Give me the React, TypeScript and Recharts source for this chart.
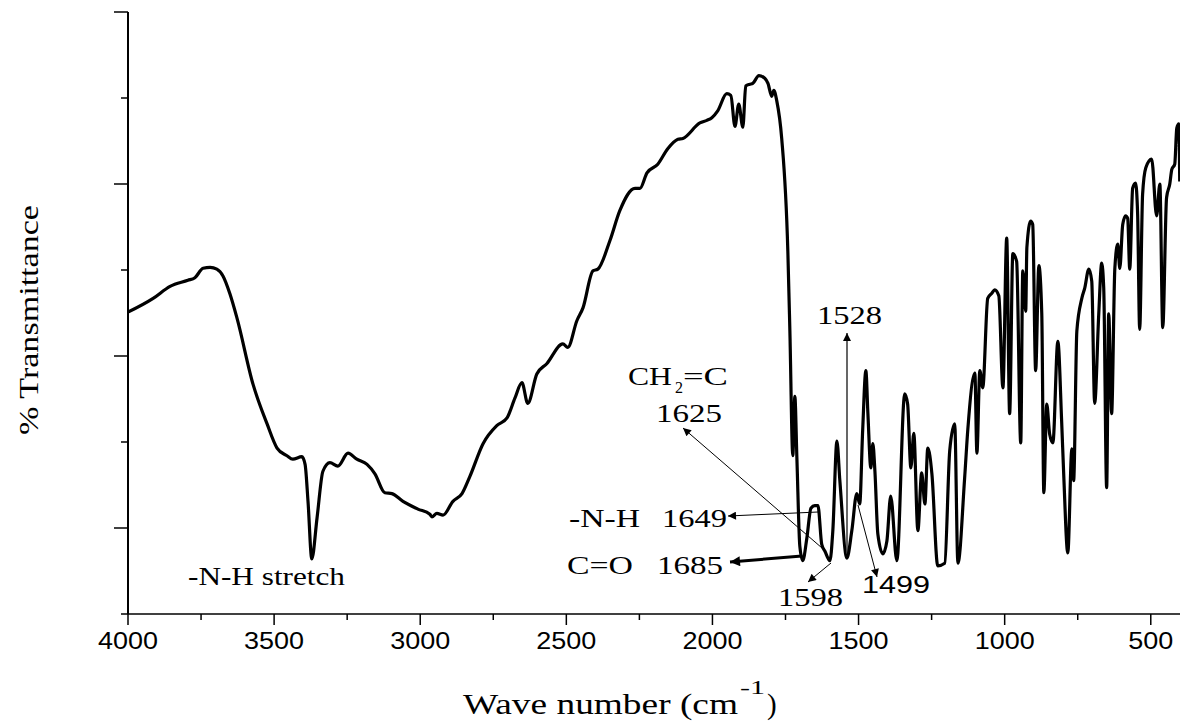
import React from "react";
import { LineChart, Line, XAxis, YAxis } from "recharts";

// Wavenumber (cm-1)
const wavenumbers: number[] = [
  4000, 3914, 3856, 3795, 3771, 3743, 3719, 3696, 3675, 3651,
  3627, 3572, 3524, 3490, 3456, 3436, 3405, 3394, 3384, 3371,
  3353, 3333, 3309, 3282, 3247, 3217, 3182, 3155, 3121, 3097,
  3059, 3008, 2967, 2960, 2943, 2922, 2888, 2857, 2830, 2785,
  2738, 2703, 2676, 2652, 2632, 2601, 2567, 2512, 2495, 2464,
  2443, 2409, 2392, 2351, 2317, 2265, 2248, 2224, 2187, 2153,
  2118, 2101, 2043, 2019, 2002, 1982, 1951, 1937, 1923, 1910,
  1896, 1886, 1872, 1862, 1841, 1821, 1810, 1797, 1790, 1780,
  1763, 1742, 1735, 1725, 1718, 1711, 1701, 1691, 1677, 1663,
  1650, 1639, 1626, 1615, 1598, 1588, 1574, 1564, 1540, 1523,
  1506, 1496, 1486, 1475, 1468, 1458, 1451, 1444, 1434, 1417,
  1403, 1390, 1369, 1342, 1332, 1321, 1311, 1297, 1284, 1273,
  1263, 1249, 1229, 1205, 1188, 1171, 1160, 1137, 1126, 1102,
  1095, 1085, 1075, 1058, 1044, 1034, 1020, 1006, 993, 983,
  972, 959, 945, 938, 928, 924, 911, 904, 894, 883,
  873, 866, 856, 846, 835, 818, 805, 798, 784, 770,
  764, 753, 736, 726, 712, 702, 692, 678, 668, 661,
  651, 644, 634, 623, 613, 606, 596, 586, 579, 572,
  562, 552, 545, 538, 528, 517, 497, 480, 469, 459,
  446, 435, 428, 418, 411, 404, 401,
];

// % Transmittance (arbitrary scale 0..70, axis unlabeled in the reference)
const transmittance: number[] = [
  35.1, 36.7, 38.1, 38.8, 39.1, 40.2, 40.3, 40.1, 39.3, 37.2,
  34.4, 26.7, 22.1, 19.3, 18.4, 18.0, 18.3, 17.4, 13.1, 6.4,
  11.2, 16.6, 17.6, 17.2, 18.7, 18.0, 17.4, 16.3, 14.1, 14.0,
  13.1, 12.2, 11.6, 11.3, 11.7, 11.5, 13.1, 14.0, 16.0, 19.8,
  21.9, 22.8, 25.1, 26.9, 24.5, 27.9, 29.1, 31.4, 31.0, 34.1,
  35.6, 39.9, 40.1, 43.4, 46.9, 49.5, 49.5, 51.3, 52.3, 54.1,
  55.2, 55.3, 57.1, 57.4, 57.7, 58.5, 60.5, 60.3, 56.7, 59.3,
  56.6, 61.4, 61.6, 61.7, 62.6, 62.3, 61.7, 60.2, 60.9, 59.7,
  55.3, 42.2, 32.9, 18.4, 25.3, 18.1, 7.9, 6.2, 8.8, 12.3,
  12.6, 12.6, 8.1, 7.3, 6.2, 9.7, 20.1, 15.5, 6.5, 9.7,
  14.0, 12.8, 21.3, 28.3, 23.3, 17.0, 19.8, 16.6, 9.3, 7.0,
  8.5, 13.7, 6.2, 25.6, 24.4, 17.0, 21.0, 9.7, 16.4, 12.8,
  19.3, 16.3, 5.6, 5.9, 19.0, 22.1, 5.9, 15.8, 21.5, 28.0,
  18.7, 28.3, 26.3, 36.7, 37.3, 37.7, 37.0, 26.3, 43.7, 23.3,
  41.9, 41.0, 19.9, 39.9, 35.2, 42.6, 45.7, 45.3, 28.3, 40.5,
  34.9, 14.1, 24.4, 20.9, 19.9, 31.7, 22.4, 16.3, 7.1, 19.2,
  15.5, 32.9, 36.7, 37.9, 40.1, 38.7, 24.5, 34.9, 40.8, 37.9,
  14.7, 34.9, 23.3, 40.2, 43.0, 40.2, 45.3, 46.3, 46.0, 40.1,
  49.5, 50.1, 46.5, 33.1, 48.8, 51.9, 52.9, 46.3, 50.0, 33.3,
  48.4, 50.0, 51.7, 52.3, 56.5, 57.0, 50.3,
];

const xTicks: number[] = [4000, 3750, 3500, 3250, 3000, 2750, 2500, 2250, 2000, 1750, 1500, 1250, 1000, 750, 500];
const xMajorTicks: number[] = [4000, 3500, 3000, 2500, 2000, 1500, 1000, 500];
const yTicks: number[] = [0, 10, 20, 30, 40, 50, 60, 70];
const yMajorTicks: number[] = [10, 30, 50, 70];

const data = wavenumbers.map((wn, i) => ({ wn, t: transmittance[i] }));

const SERIF = "'Liberation Serif', 'Times New Roman', serif";
const SANS = "'Liberation Sans', Arial, sans-serif";

const XTick = (props: any) => {
  const { x, y, payload } = props;
  const v = payload.value as number;
  const major = xMajorTicks.includes(v);
  return (
    <g>
      <line x1={x} y1={y} x2={x} y2={y + (major ? 11 : 6)} stroke="#000" strokeWidth={1.5} />
      {major && (
        <text x={x} y={y + 35} textAnchor="middle" fontFamily={SANS} fontSize={24} fill="#000"
          textLength={String(v).length * 15} lengthAdjust="spacingAndGlyphs">
          {v}
        </text>
      )}
    </g>
  );
};

const YTick = (props: any) => {
  const { x, y, payload } = props;
  const v = payload.value as number;
  const major = yMajorTicks.includes(v);
  return <line x1={x} y1={y} x2={x - (major ? 14 : 7)} y2={y} stroke="#000" strokeWidth={1.5} />;
};

const T = (p: { x: number; y: number; w: number; s?: number; f?: string; children: React.ReactNode; anchor?: string }) => (
  <text x={p.x} y={p.y} fontFamily={p.f || SERIF} fontSize={p.s || 25} fill="#000"
    textLength={p.w} lengthAdjust="spacingAndGlyphs" textAnchor={(p.anchor as any) || "start"}>
    {p.children}
  </text>
);

export default function App() {
  return (
    <div style={{ position: "fixed", left: 0, top: 0, width: 1181, height: 724, background: "#fff" }}>
      <LineChart width={1181} height={724} data={data} margin={{ top: 12, right: 1, left: 0, bottom: 0 }}>
        <XAxis dataKey="wn" type="number" domain={[400, 4000]} reversed ticks={xTicks} interval={0}
          height={110} tickSize={0} tickMargin={0} tickLine={false} tick={<XTick />}
          axisLine={{ stroke: "#000", strokeWidth: 1.5 }} allowDataOverflow />
        <XAxis xAxisId="top" dataKey="wn" type="number" domain={[400, 4000]} reversed orientation="top"
          height={0} tick={false} tickLine={false} axisLine={{ stroke: "#666", strokeWidth: 1 }} />
        <YAxis type="number" domain={[0, 70]} ticks={yTicks} interval={0} width={128}
          tickSize={0} tickMargin={0} tickLine={false} tick={<YTick />}
          axisLine={{ stroke: "#000", strokeWidth: 2 }} allowDataOverflow />
        <YAxis yAxisId="right" orientation="right" type="number" domain={[0, 70]} width={0}
          tick={false} tickLine={false} axisLine={{ stroke: "#666", strokeWidth: 1 }} />
        <Line type="monotone" dataKey="t" stroke="#000" strokeWidth={3.2} dot={false}
          isAnimationActive={false} strokeLinejoin="round" />
      </LineChart>
      <svg width={1181} height={724} style={{ position: "absolute", left: 0, top: 0, pointerEvents: "none" }}>
        <defs>
          <marker id="ah" viewBox="0 0 10 10" refX="10" refY="5" markerWidth="14" markerHeight="8"
            markerUnits="userSpaceOnUse" orient="auto">
            <path d="M0,0 L10,5 L0,10 z" fill="#000" />
          </marker>
          <marker id="ahBig" viewBox="0 0 10 10" refX="10" refY="5" markerWidth="18" markerHeight="10"
            markerUnits="userSpaceOnUse" orient="auto">
            <path d="M0,0 L10,5 L0,10 z" fill="#000" />
          </marker>
        </defs>
        {/* axis titles */}
        <text transform="translate(38,320) rotate(-90)" textAnchor="middle" fontFamily={SERIF} fontSize={28}
          fill="#000" textLength={230} lengthAdjust="spacingAndGlyphs">% Transmittance</text>
        <text x={463} y={714} fontFamily={SERIF} fontSize={29} fill="#000" textLength={275}
          lengthAdjust="spacingAndGlyphs">Wave number (cm</text>
        <text x={740} y={694} fontFamily={SERIF} fontSize={19} fill="#000" textLength={25}
          lengthAdjust="spacingAndGlyphs">-1</text>
        <text x={767} y={714} fontFamily={SERIF} fontSize={29} fill="#000">)</text>

        {/* annotations */}
        <T x={188} y={585} w={157}>-N-H stretch</T>
        <T x={817} y={324} w={65}>1528</T>
        <T x={628} y={385} w={44}>CH</T>
        <T x={675} y={393} w={8} s={16}>2</T>
        <T x={683} y={385} w={45}>=C</T>
        <T x={656} y={422} w={66}>1625</T>
        <T x={569} y={527} w={71}>-N-H</T>
        <T x={662} y={527} w={65}>1649</T>
        <T x={567} y={574} w={66}>C=O</T>
        <T x={657} y={574} w={66}>1685</T>
        <T x={778} y={606} w={65}>1598</T>
        <T x={862} y={593} w={68} s={24} f={SANS}>1499</T>

        <line x1={847} y1={557} x2={847} y2={333} stroke="#000" strokeWidth={1.2} markerEnd="url(#ah)" />
        <line x1={822} y1={548} x2={683} y2={428} stroke="#000" strokeWidth={1} markerEnd="url(#ah)" />
        <line x1={818} y1={512} x2={728} y2={516} stroke="#000" strokeWidth={1} markerEnd="url(#ah)" />
        <line x1={802} y1={556} x2={730} y2={562} stroke="#000" strokeWidth={3} markerEnd="url(#ahBig)" />
        <line x1={831} y1={563} x2={808} y2={582} stroke="#000" strokeWidth={1} markerEnd="url(#ah)" />
        <line x1={858} y1={505} x2={877} y2={577} stroke="#000" strokeWidth={1} markerEnd="url(#ah)" />
      </svg>
    </div>
  );
}
